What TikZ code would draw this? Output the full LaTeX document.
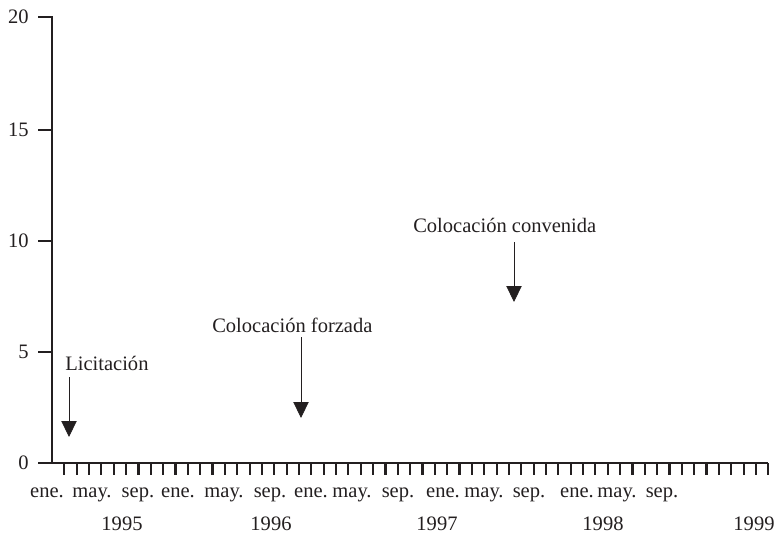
\documentclass[tikz,border=0pt]{standalone}
\usepackage{fontspec}
\setmainfont{Liberation Serif}
\usetikzlibrary{arrows.meta}
\definecolor{ink}{RGB}{35,31,32}

\begin{document}
\begin{tikzpicture}
[
  x=0.75pt, y=-0.75pt,
  axis/.style={draw=ink, line width=1.6pt},
  evt/.style={draw=ink, line width=0.6pt, -{Triangle[length=12pt,width=11.5pt]}},
  lbl/.style={text=ink, font=\fontsize{15.4}{18}\selectfont, inner sep=0pt},
]
\useasboundingbox (0,0) rectangle (778,535);

% axes
\coordinate (yTop) at (38,17);
\coordinate (origin) at (52,463);
\coordinate (xLeft) at (38,463);
\coordinate (xEnd) at (768,463);
\draw[axis] (yTop) -- (yTop -| origin) -- (origin);
\draw[axis] (xLeft) -- (xEnd);
\foreach \k in {1,...,58}
    \draw[axis] ({52+12.35*\k},463) -- ++(0,12);
\foreach \v/\y in {5/352,10/241,15/130}
    \draw[axis] (38,\y) -- (52,\y);
\foreach \v/\y in {0/463,5/352,10/241,15/130,20/17}
    \node[lbl,anchor=east] (yLab\v) at (29,\y) {\v};

% months and years
\foreach \x/\m [count=\i] in {47/ene.,92/may.,138/sep.,178/ene.,224/may.,270/sep.,
    311/ene.,352/may.,398/sep.,443/ene.,484/may.,529/sep.,577/ene.,617/may.,662/sep.}
    \node[lbl,anchor=base] (mes\i) at (\x,497) {\m};
\foreach \x/\a in {122/1995,271/1996,437/1997,603/1998,754/1999}
    \node[lbl,anchor=base] (anio\a) at (\x,530) {\a};

% events
\node[lbl,anchor=base west] (licitacion) at (65,370) {Licitación};
\node[lbl,anchor=base west] (forzada) at (212,332) {Colocación forzada};
\node[lbl,anchor=base west] (convenida) at (413,232) {Colocación convenida};
\coordinate (licTop) at (69,377);
\coordinate (licTip) at (69,437);
\coordinate (forTop) at (301,337);
\coordinate (forTip) at (301,418);
\coordinate (conTop) at (514,242);
\coordinate (conTip) at (514,302);
\draw[evt] (licTop) -- (licTip);
\draw[evt] (forTop) -- (forTip);
\draw[evt] (conTop) -- (conTip);
\end{tikzpicture}
\end{document}
